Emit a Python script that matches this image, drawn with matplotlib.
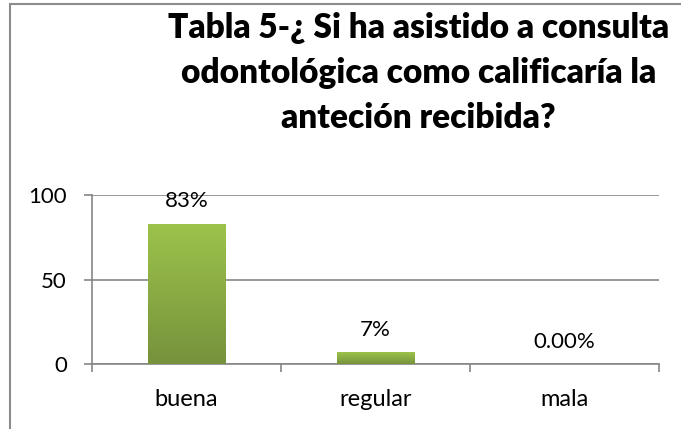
import numpy as np
import matplotlib.pyplot as plt
from matplotlib.patches import Rectangle
from matplotlib.colors import LinearSegmentedColormap
plt.switch_backend('agg')

categories = ['buena', 'regular', 'mala']
values = [83, 7, 0]
labels = ['83%', '7%', '0.00%']
title = 'Tabla 5-¿ Si ha asistido a consulta\nodontológica como calificaría la\nanteción recibida?'

plt.rcParams['font.family'] = ['Lato', 'DejaVu Sans']
grey = '#868686'

fig = plt.figure(figsize=(6.81, 4.29), dpi=100)
ax = fig.add_axes([92 / 681, 65 / 429, 567 / 681, 169 / 429])

x = np.arange(len(categories))
bars = ax.bar(x, values, width=0.41, color='#8cb043', zorder=3)

# vertical gradient on each bar
grad = np.linspace(0, 1, 256).reshape(-1, 1)
cmap = LinearSegmentedColormap.from_list('g', ['#76923c', '#9dc34b'])
for b in bars:
    if b.get_height() <= 0:
        continue
    im = ax.imshow(grad, cmap=cmap, aspect='auto', origin='lower',
                   extent=[b.get_x(), b.get_x() + b.get_width(), 0, b.get_height()],
                   zorder=4)
    im.set_clip_path(b)

for xi, v, lab in zip(x, values, labels):
    ax.annotate(lab, (xi, v), xytext=(0, 9), textcoords='offset points',
                ha='center', va='bottom', fontsize=16, color='black', zorder=5)

ax.set_xlim(-0.5, 2.5)
ax.set_ylim(0, 100)
ax.set_yticks([0, 50, 100])
ax.set_xticks(x)
ax.set_xticklabels(categories)
ax.set_xticks([-0.5, 0.5, 1.5, 2.5], minor=True)
ax.tick_params(axis='x', which='major', length=0, pad=18, labelsize=17)
ax.tick_params(axis='x', which='minor', length=6, width=1.2, color=grey, direction='out')
ax.tick_params(axis='y', length=6, width=1.2, color=grey, pad=12, labelsize=16)

ax.yaxis.grid(True, color=grey, linewidth=1.2, zorder=0)
ax.set_axisbelow(True)
for s in ['top', 'right']:
    ax.spines[s].set_visible(False)
for s in ['left', 'bottom']:
    ax.spines[s].set_color(grey)
    ax.spines[s].set_linewidth(1.2)

fig.text(0.614, 1 - 12 / 429, title, ha='center', va='top', fontsize=24,
         fontweight='heavy', linespacing=1.5, multialignment='center')

# chart frame
fig.patches.append(Rectangle((10 / 681, -0.1), 1.1, 1 - 4 / 429 + 0.1,
                             transform=fig.transFigure, fill=False,
                             edgecolor='#8c8c8c', linewidth=1.5))

fig.savefig('out.png', dpi=100)
